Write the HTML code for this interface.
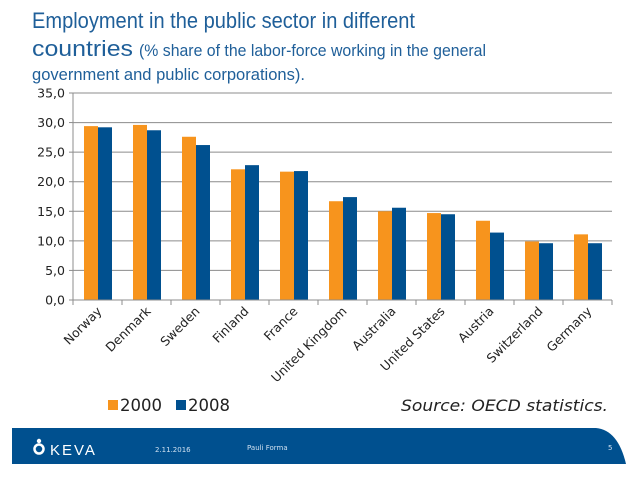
<!DOCTYPE html>
<html><head><meta charset="utf-8"><style>
html,body{margin:0;padding:0;background:#fff;}
svg{display:block;font-family:"DejaVu Sans","Liberation Sans",sans-serif;}
</style></head><body>
<svg id="c" width="638" height="479" viewBox="0 0 638 479">
<g fill="#1f5f99" font-family="Liberation Sans, sans-serif">
<text x="32" y="28" font-size="22" textLength="383" lengthAdjust="spacingAndGlyphs">Employment in the public sector in different</text>
<text x="32" y="56" font-size="22" textLength="101" lengthAdjust="spacingAndGlyphs">countries</text>
<text x="139" y="56" font-size="17" textLength="347" lengthAdjust="spacingAndGlyphs">(% share of the labor-force working in the general</text>
<text x="32" y="80" font-size="17" textLength="273" lengthAdjust="spacingAndGlyphs">government and public corporations).</text>
</g>
<g id="grid"></g>
<g id="yax"></g>
<g id="bars"></g>
<g id="xax"></g>
<g>
<rect x="108" y="400" width="10" height="10" fill="#f7941d"/>
<text x="120" y="411" font-size="16.5" fill="#222">2000</text>
<rect x="176" y="400" width="10" height="10" fill="#00508f"/>
<text x="188" y="411" font-size="16.5" fill="#222">2008</text>
</g>
<text x="608" y="411" font-size="16" font-style="italic" fill="#222" text-anchor="end" textLength="207" lengthAdjust="spacingAndGlyphs">Source: OECD statistics.</text>
<g>
<path d="M12 428 H596 Q618 430 626 464 H12 Z" fill="#00508f"/>
<circle cx="39" cy="441" r="2.2" fill="#fff"/>
<circle cx="39" cy="449" r="4.5" fill="none" stroke="#fff" stroke-width="2.5"/>
<text x="50" y="455" font-size="15" fill="#fff" font-family="Liberation Sans,sans-serif" letter-spacing="2">KEVA</text>
<text x="155" y="452" font-size="7" fill="#cfe0f0">2.11.2016</text>
<text x="247" y="450" font-size="7" fill="#cfe0f0">Pauli Forma</text>
<text x="608" y="450" font-size="7" fill="#cfe0f0">5</text>
</g>
</svg>
<script>
const categories=["Norway","Denmark","Sweden","Finland","France","United Kingdom","Australia","United States","Austria","Switzerland","Germany"];
const values2000=[29.4,29.6,27.6,22.1,21.7,16.7,15.0,14.7,13.4,9.9,11.1];
const values2008=[29.2,28.7,26.2,22.8,21.8,17.4,15.6,14.5,11.4,9.6,9.6];
const yTicks=[0,5,10,15,20,25,30,35];
const yTickLabels=["0,0","5,0","10,0","15,0","20,0","25,0","30,0","35,0"];
const NS="http://www.w3.org/2000/svg";
const X0=73,X1=612,Y0=300,Y1=93,YMAX=35;
const gw=(X1-X0)/categories.length;
const y=v=>Y0-(v/YMAX)*(Y0-Y1);
const xg=i=>X0+i*gw;
function mk(t,a,p){const e=document.createElementNS(NS,t);for(const k in a)e.setAttribute(k,a[k]);p.appendChild(e);return e;}
const grid=document.getElementById('grid'),yax=document.getElementById('yax'),bars=document.getElementById('bars'),xax=document.getElementById('xax');
yTicks.forEach((t,i)=>{
 if(t>0){const l=mk('line',{x1:X0,x2:X1,y1:y(t),y2:y(t),stroke:'#8c8c8c','stroke-width':1},grid);
 
 }
 const tx=mk('text',{x:X0-8,y:y(t)+4.5,'font-size':12.5,'text-anchor':'end',fill:'#222'},yax);
 tx.textContent=yTickLabels[i];
 
 
 mk('line',{x1:X0-4,x2:X0,y1:y(t),y2:y(t),stroke:'#8c8c8c'},yax);
});
mk('line',{x1:X0,x2:X0,y1:Y1,y2:Y0,stroke:'#8c8c8c'},yax);
const bw=14,off=11;
categories.forEach((c,i)=>{
 const a=mk('rect',{x:xg(i)+off,y:y(values2000[i]),width:bw,height:Y0-y(values2000[i]),fill:'#f7941d'},bars);
 
 
 const b=mk('rect',{x:xg(i)+off+bw,y:y(values2008[i]),width:bw,height:Y0-y(values2008[i]),fill:'#00508f'},bars);
 
 
 mk('line',{x1:xg(i),x2:xg(i),y1:Y0,y2:Y0+5,stroke:'#8c8c8c'},xax);
 const cx=xg(i)+gw/2+5,cy=Y0+12;
 const t=mk('text',{x:cx,y:cy,'font-size':12.5,'text-anchor':'end',fill:'#222',transform:`rotate(-45 ${cx} ${cy})`},xax);
 t.textContent=c;
 
 
});
mk('line',{x1:X1,x2:X1,y1:Y0,y2:Y0+5,stroke:'#8c8c8c'},xax);
mk('line',{x1:X0,x2:X1,y1:Y0,y2:Y0,stroke:'#8c8c8c'},xax);
</script>
</body></html>
